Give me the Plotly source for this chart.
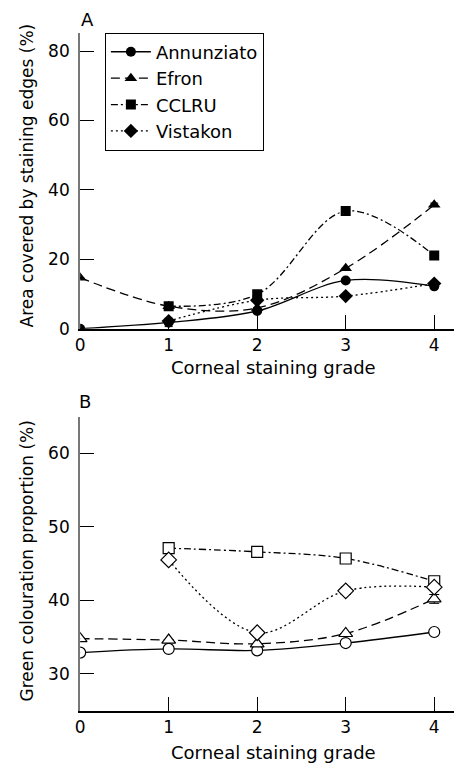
import plotly.graph_objects as go

grades = [0, 1, 2, 3, 4]
grades_from1 = [1, 2, 3, 4]
series_names = ["Annunziato", "Efron", "CCLRU", "Vistakon"]

# Panel A: area covered by staining edges (%)
a_annunziato = [0.0, 1.8, 5.1, 13.9, 12.2]
a_efron = [14.7, 6.5, 6.0, 17.4, 35.7]
a_cclru = [6.5, 9.9, 33.9, 21.1]
a_vistakon = [2.2, 8.2, 9.4, 13.0]
a_annunziato_err = [0, 1.2, 0, 0, 0]
a_efron_err = [0, 0, 0, 0, 0.5]

# Panel B: green colouration proportion (%)
b_annunziato = [32.9, 33.4, 33.2, 34.2, 35.7]
b_efron = [34.8, 34.6, 34.1, 35.5, 40.2]
b_cclru = [47.1, 46.6, 45.7, 42.6]
b_vistakon = [45.5, 35.6, 41.3, 41.8]
b_efron_err = [0, 0, 0, 0, 0.6]
b_cclru_err = [0, 0, 0, 0.4]
b_vistakon_err = [0, 0, 0.5, 0]

FONT = "DejaVu Sans"
W, H = 454, 774

def px_x(p):
    return p / W

def px_y(p):
    return 1 - p / H

dashes = {
    "Annunziato": "solid",
    "Efron": "9px,5px",
    "CCLRU": "7px,3px,2px,3px",
    "Vistakon": "2px,3px",
}
symbols = {"Annunziato": "circle", "Efron": "triangle-up", "CCLRU": "square", "Vistakon": "diamond"}
sizes = {"Annunziato": 10, "Efron": 11, "CCLRU": 10, "Vistakon": 11}

fig = go.Figure()

top = [(grades, a_annunziato, a_annunziato_err), (grades, a_efron, a_efron_err),
       (grades_from1, a_cclru, None), (grades_from1, a_vistakon, None)]
for name, (xs, ys, err) in zip(series_names, top):
    fig.add_trace(go.Scatter(
        x=xs, y=ys, name=name, mode="lines+markers",
        line=dict(color="black", width=1.3, dash=dashes[name], shape="spline"),
        marker=dict(symbol=symbols[name], size=sizes[name], color="black"),
        error_y=dict(type="data", array=err, color="black", thickness=1, width=4, visible=err is not None),
        xaxis="x", yaxis="y", showlegend=True))

bottom = [(grades, b_annunziato, None), (grades, b_efron, b_efron_err),
          (grades_from1, b_cclru, b_cclru_err), (grades_from1, b_vistakon, b_vistakon_err)]
for name, (xs, ys, err) in zip(series_names, bottom):
    fig.add_trace(go.Scatter(
        x=xs, y=ys, name=name, mode="lines+markers",
        line=dict(color="black", width=1.3, dash=dashes[name], shape="spline"),
        marker=dict(symbol=symbols[name], size=sizes[name] + 1, color="white",
                    line=dict(color="black", width=1.2)),
        error_y=dict(type="data", array=err, color="black", thickness=1, width=5, visible=err is not None),
        xaxis="x2", yaxis="y2", showlegend=False))

xdom = [px_x(76), 1.0]
xrange_ = [0, 4 * (454 - 76) / (434 - 76)]
common_x = dict(
    domain=xdom, range=xrange_, tickvals=grades, ticktext=[str(g) for g in grades],
    ticks="inside", ticklen=14, tickcolor="black", tickwidth=1,
    showline=True, linecolor="black", linewidth=1.5, showgrid=False, zeroline=False,
    tickfont=dict(family=FONT, size=17, color="black"),
)
common_y = dict(
    ticks="inside", ticklen=14, tickcolor="black", tickwidth=1,
    showline=True, linecolor="#777777", linewidth=2, showgrid=False, zeroline=False,
    tickfont=dict(family=FONT, size=17, color="black"), ticklabelstandoff=5,
)

def ann(text, x, y, size=17, angle=0):
    return dict(text=text, x=px_x(x), y=px_y(y), xref="paper", yref="paper",
                xanchor="center", yanchor="middle", showarrow=False, textangle=angle,
                font=dict(family=FONT, size=size, color="black"))

fig.update_layout(
    width=W, height=H, margin=dict(l=0, r=0, t=0, b=0),
    paper_bgcolor="white", plot_bgcolor="white",
    font=dict(family=FONT, size=17, color="black"),
    xaxis=dict(**common_x, anchor="y"),
    yaxis=dict(**common_y, domain=[px_y(333), px_y(33)], range=[0, 300 / 70.3 * 20],
               tickvals=[0, 20, 40, 60, 80], anchor="x"),
    xaxis2=dict(**common_x, anchor="y2"),
    yaxis2=dict(**common_y, domain=[px_y(720), px_y(422)], range=[25, 65],
                tickvals=[30, 40, 50, 60], anchor="x2"),
    legend=dict(x=px_x(101), y=px_y(33), xanchor="left", yanchor="top",
                bordercolor="black", borderwidth=1, bgcolor="white",
                font=dict(family=FONT, size=18, color="black"),
                tracegroupgap=0, itemwidth=40),
    showlegend=True,
    annotations=[
        ann("A", 83, 20, 18),
        ann("B", 81, 407, 18),
        ann("Corneal staining grade", 271, 372, 18),
        ann("Corneal staining grade", 271, 762, 18),
        ann("Area covered by staining edges (%)", 22, 178, 17, -90),
        ann("Green colouration proportion (%)", 22, 568, 17, -90),
    ],
)

fig.write_html("out.html")
